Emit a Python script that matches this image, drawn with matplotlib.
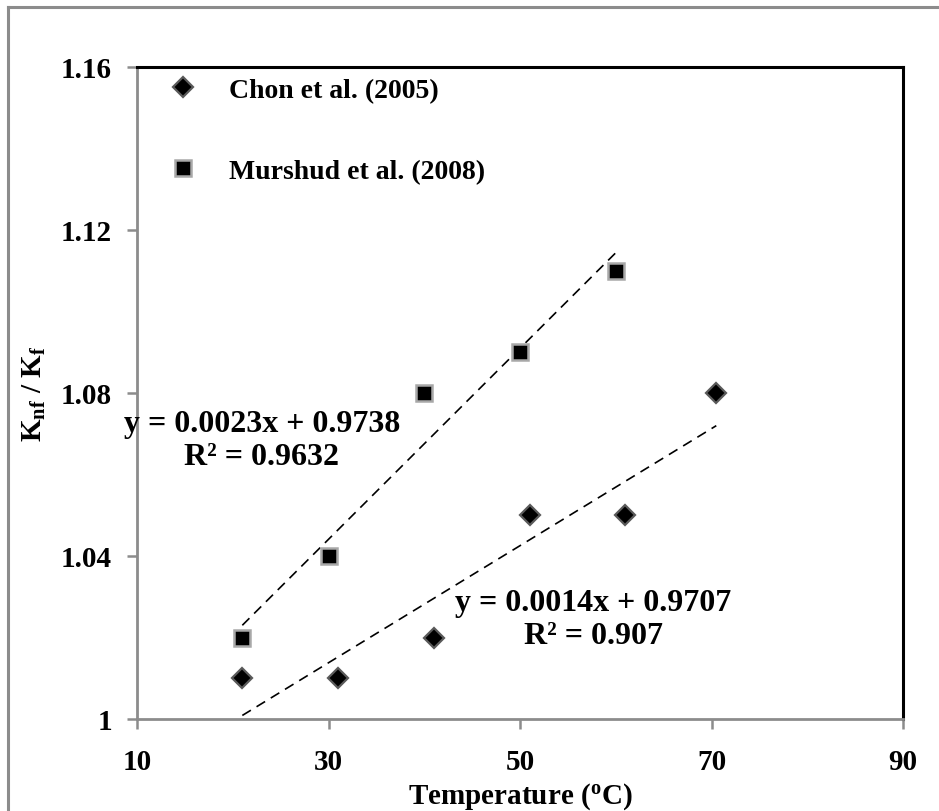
import numpy as np
import matplotlib
matplotlib.use("Agg")
import matplotlib.pyplot as plt
from matplotlib.lines import Line2D

plt.rcParams['font.family'] = ['Liberation Serif', 'DejaVu Serif']
plt.rcParams['font.weight'] = 'bold'
plt.rcParams['mathtext.fontset'] = 'custom'
plt.rcParams['mathtext.rm'] = 'Liberation Serif:bold'
plt.rcParams['mathtext.it'] = 'Liberation Serif:bold'
plt.rcParams['mathtext.bf'] = 'Liberation Serif:bold'

# Data
chon_x = [21, 31, 41, 51, 61, 70.5]
chon_y = [1.01, 1.01, 1.02, 1.05, 1.05, 1.08]
murshud_x = [21, 30, 40, 50, 60]
murshud_y = [1.02, 1.04, 1.08, 1.09, 1.11]
series_labels = ['Chon et al. (2005)', 'Murshud et al. (2008)']
x_ticks = [10, 30, 50, 70, 90]
x_tick_labels = ['10', '30', '50', '70', '90']
y_ticks = [1.00, 1.04, 1.08, 1.12, 1.16]
y_tick_labels = ['1', '1.04', '1.08', '1.12', '1.16']
eq_chon = 'y = 0.0014x + 0.9707\nR² = 0.907'
eq_murshud = 'y = 0.0023x + 0.9738\nR² = 0.9632'

W, H = 939, 812
fig = plt.figure(figsize=(W / 100, H / 100), dpi=100)
ax = fig.add_axes([137 / W, (H - 720) / H, 766 / W, 652 / H])

FS = 21
FS_EQ = 23
FS_LEG = 20
gray = '#8c8c8c'

# Scatter series
ax.plot(chon_x, chon_y, linestyle='none', marker='D', ms=10.5,
        mfc='black', mec='#5a5a5a', mew=1.6, label=series_labels[0], zorder=3)
ax.plot(murshud_x, murshud_y, linestyle='none', marker='s', ms=11,
        mfc='black', mec='#a8a8a8', mew=1.8, label=series_labels[1], zorder=3)

# Linear trendlines
for xs, ys in [(chon_x, chon_y), (murshud_x, murshud_y)]:
    p = np.polyfit(xs, ys, 1)
    xx = np.array([min(xs), max(xs)])
    ax.plot(xx, np.polyval(p, xx), color='black', lw=1.2,
            dashes=(6, 4), zorder=2)

ax.set_xlim(10, 90)
ax.set_ylim(1.0, 1.16)
ax.set_xticks(x_ticks)
ax.set_xticklabels(x_tick_labels)
ax.set_yticks(y_ticks)
ax.set_yticklabels(y_tick_labels)
ax.tick_params(axis='both', direction='out', length=7, width=1.8,
               color=gray, labelsize=FS, labelcolor='black')
ax.tick_params(axis='x', pad=14)
ax.tick_params(axis='y', pad=11)
for lab in ax.get_xticklabels() + ax.get_yticklabels():
    lab.set_fontweight('bold')

for s in ['left', 'bottom']:
    ax.spines[s].set_color(gray)
    ax.spines[s].set_linewidth(2.0)
for s in ['top', 'right']:
    ax.spines[s].set_color('black')
    ax.spines[s].set_linewidth(2.2)

ax.set_xlabel('Temperature ($^{\\rm o}$C)', fontsize=FS, fontweight='bold')
ax.xaxis.set_label_coords(0.5, -(781 - 720) / 652)
ax.set_ylabel('K$_{\\rm nf}$ / K$_{\\rm f}$', fontsize=FS, fontweight='bold')
ax.yaxis.set_label_coords((48 - 137) / 766, 0.5)

# Trendline equations
ax.text((262 - 137) / 766, (720 - 441) / 652, eq_murshud, transform=ax.transAxes,
        ha='center', va='center', multialignment='center', fontsize=FS_EQ,
        fontweight='bold', linespacing=1.22)
ax.text((593 - 137) / 766, (720 - 620) / 652, eq_chon, transform=ax.transAxes,
        ha='center', va='center', multialignment='center', fontsize=FS_EQ,
        fontweight='bold', linespacing=1.22)

leg = ax.legend(loc='upper left', bbox_to_anchor=(0.0346, 0.992), frameon=False,
                fontsize=FS_LEG, handlelength=1.0, handletextpad=1.15,
                labelspacing=2.0, borderpad=0.2, borderaxespad=0.0)
for t in leg.get_texts():
    t.set_fontweight('bold')

# Outer chart border
fig.add_artist(Line2D([8 / W, 8 / W], [0, 1 - 8 / H], color=gray, lw=2.2,
                      transform=fig.transFigure))
fig.add_artist(Line2D([8 / W, 1], [1 - 8 / H, 1 - 8 / H], color=gray, lw=2.2,
                      transform=fig.transFigure))

fig.savefig('out.png', dpi=100)
